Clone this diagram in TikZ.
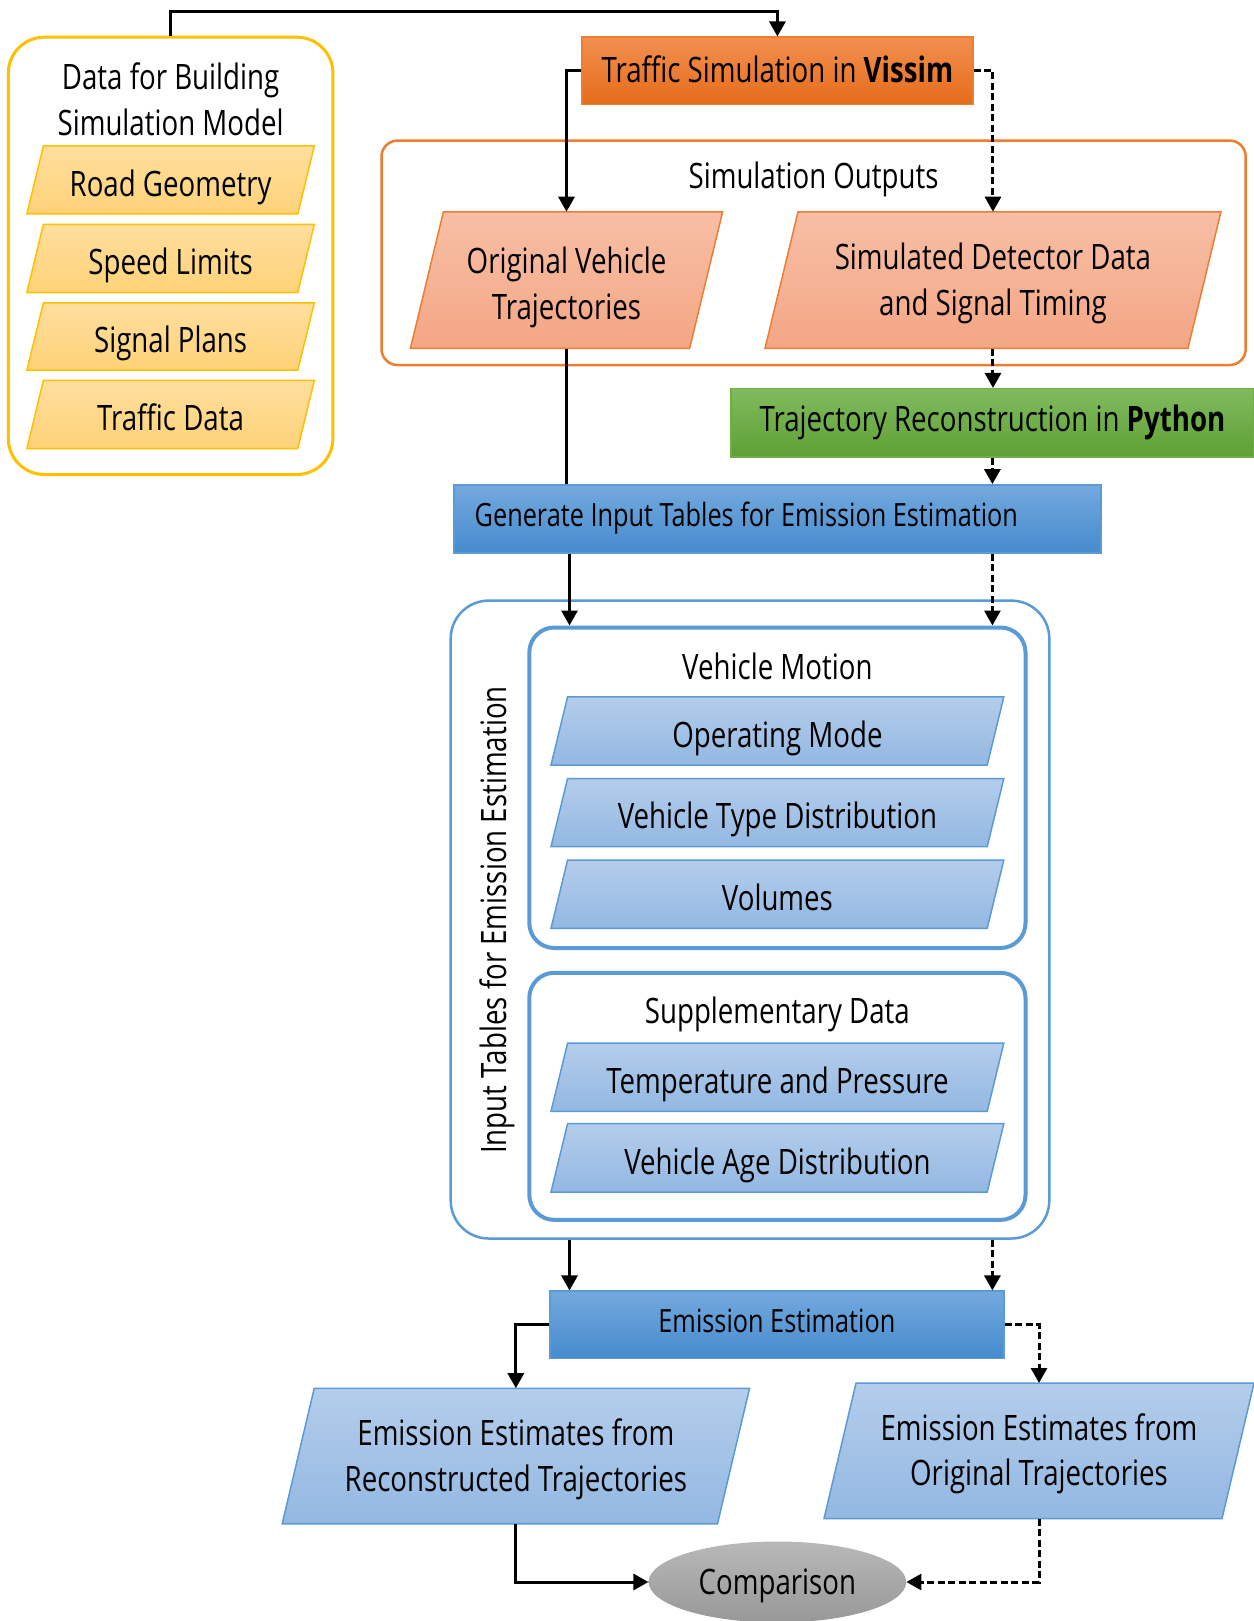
\documentclass[tikz,border=0pt]{standalone}
\usepackage{fontspec}
\setmainfont{Open Sans}[FakeStretch=0.79]
\usetikzlibrary{shapes.geometric,arrows.meta}
\definecolor{yelB}{RGB}{255,192,0}
\definecolor{yelT}{RGB}{255,222,158}
\definecolor{yelD}{RGB}{254,210,120}
\definecolor{orgB}{RGB}{237,125,49}
\definecolor{orgT}{RGB}{242,143,80}
\definecolor{orgD}{RGB}{229,108,25}
\definecolor{opT}{RGB}{247,191,166}
\definecolor{opD}{RGB}{244,166,132}
\definecolor{grnB}{RGB}{112,173,71}
\definecolor{grnT}{RGB}{128,187,94}
\definecolor{grnD}{RGB}{94,160,52}
\definecolor{bluB}{RGB}{91,155,213}
\definecolor{bbT}{RGB}{115,169,222}
\definecolor{bbD}{RGB}{70,139,205}
\definecolor{bpT}{RGB}{180,205,235}
\definecolor{bpD}{RGB}{147,184,226}
\definecolor{gryT}{RGB}{184,184,184}
\definecolor{gryD}{RGB}{152,152,152}
\newcommand\st{\rule[-13.65pt]{0pt}{51.65pt}}
\newcommand\stp{\rule[-13.65pt]{0pt}{60pt}}
\newcommand\mkpara[8]{%
  \path[#7] (#2,#5) -- ({#2+#6},#4) -- (#3,#4) -- ({#3-#6},#5) -- cycle;
  \node[txt, minimum width={#3-#2-#6}, minimum height={#5-#4}] (#1) at ({(#2+#3)/2},{(#4+#5)/2}) {#8};
}
\newcommand\mkbox[7]{%
  \node[#6, inner sep=0pt, minimum width={#4-#2}, minimum height={#5-#3}] (#1) at ({(#2+#4)/2},{(#3+#5)/2}) {#7};
}
\begin{document}
\begin{tikzpicture}[x=1pt,y=-1pt,
  conn/.style={line width=3pt, draw=black},
  arr/.style={-{Triangle[length=15pt,width=16pt]}},
  dsh/.style={dash pattern=on 7pt off 3.5pt},
  txt/.style={font=\fontsize{35}{45.5}\selectfont, align=center, inner sep=0pt},
  stxt/.style={font=\fontsize{32}{40}\selectfont, align=center, inner sep=0pt},
  ypara/.style={draw=yelB, line width=1.5pt, top color=yelT, bottom color=yelD},
  opara/.style={draw=orgB, line width=1.5pt, top color=opT, bottom color=opD},
  bpara/.style={draw=bluB, line width=1.5pt, top color=bpT, bottom color=bpD},
  bbox/.style={draw=bluB, line width=1.5pt, top color=bbT, bottom color=bbD, stxt},
]
\useasboundingbox (0,0) rectangle (1253,1621);
\fill[white] (0,0) rectangle (1253,1621);

% ---- left yellow container
\mkbox{ybox}{8.3}{37.2}{332.9}{474.5}{draw=yelB, line width=3pt, rounded corners=36pt}{}
\node[txt] (ytitle) at (170.6,100.5) {\st Data for Building\\\strut Simulation Model};
\mkpara{rg}{26.9}{314.3}{146}{214}{16.5}{ypara}{\stp Road Geometry}
\mkpara{sl}{26.9}{314.3}{224.3}{292.6}{16.5}{ypara}{\stp Speed Limits}
\mkpara{sp}{26.9}{314.3}{302.9}{370.1}{16.5}{ypara}{\stp Signal Plans}
\mkpara{td}{26.9}{314.3}{380.4}{448.7}{16.5}{ypara}{\stp Traffic Data}

% ---- Vissim
\mkbox{vis}{582}{37.2}{972.8}{104.4}{draw=orgB, line width=1.5pt, top color=orgT, bottom color=orgD, txt}{\st Traffic Simulation in \textbf{Vissim}}

% ---- Simulation outputs
\mkbox{sout}{381.5}{140.6}{1245.7}{365}{draw=orgB, line width=2.5pt, rounded corners=16pt}{}
\node[txt] (souttxt) at (813.6,176) {\st Simulation Outputs};
\mkpara{orig}{410.4}{722.6}{211.9}{348.4}{33}{opara}{\stp Original Vehicle\\\strut Trajectories}
\mkpara{sim}{765}{1220.9}{211.9}{348.4}{33}{opara}{\st Simulated Detector Data\\\strut and Signal Timing}

% ---- Python
\mkbox{grn}{730.9}{388.7}{1254}{456.9}{draw=grnB, line width=1.5pt, top color=grnT, bottom color=grnD, txt}{\strut Trajectory Reconstruction in \textbf{Python}}

% ---- Generate
\mkbox{gen}{453.8}{484.9}{1101}{553.1}{bbox}{}
\node[stxt, anchor=west] (gentxt) at (474.5,514) {\st Generate Input Tables for Emission Estimation};

% ---- Input tables container
\mkbox{ibox}{450.7}{600.6}{1049.3}{1238.5}{draw=bluB, line width=2.5pt, rounded corners=38pt}{}
\node[txt, rotate=90] (ilabel) at (497.5,920) {\strut Input Tables for Emission Estimation};
\mkbox{vm}{529.3}{627.5}{1025.5}{948}{draw=bluB, line width=4pt, rounded corners=25pt}{}
\node[txt] (vmtxt) at (777.4,667) {\st Vehicle Motion};
\mkpara{om}{551}{1003.8}{696.8}{765}{16.6}{bpara}{\stp Operating Mode}
\mkpara{vt}{551}{1003.8}{778.5}{846.7}{16.6}{bpara}{\stp Vehicle Type Distribution}
\mkpara{vo}{551}{1003.8}{860.1}{928.4}{16.6}{bpara}{\stp Volumes}
\mkbox{sd}{529.3}{972.8}{1025.5}{1219.9}{draw=bluB, line width=4pt, rounded corners=25pt}{}
\node[txt] (sdtxt) at (777.4,1011) {\st Supplementary Data};
\mkpara{tp}{551}{1003.8}{1043.1}{1111.3}{16.6}{bpara}{\stp Temperature and Pressure}
\mkpara{va}{551}{1003.8}{1123.7}{1192}{16.6}{bpara}{\stp Vehicle Age Distribution}

% ---- Emission estimation
\mkbox{em}{550}{1291.2}{1003.8}{1358.4}{bbox}{\strut Emission Estimation}
\mkpara{lp}{282.2}{749.5}{1388.4}{1523.8}{32}{bpara}{\st Emission Estimates from\\\strut Reconstructed Trajectories}
\mkpara{rp}{824}{1254}{1383.2}{1518.6}{32}{bpara}{\st Emission Estimates from\\\strut Original Trajectories}
\node[ellipse, draw=none, top color=gryT, bottom color=gryD, minimum width=257.6pt, minimum height=81pt, inner sep=0pt, txt] (cmp) at (777.4,1582) {\st Comparison};

% ---- connectors
\coordinate (topy) at (0,11.4);
\coordinate (sx) at (569.5,0);
\coordinate (dx) at (992.4,0);
\draw[conn,arr] (ybox.north) |- (vis.north |- topy) -- (vis.north);
\draw[conn,arr] (vis.west) -| (orig.north);
\draw[conn,arr,dsh] (vis.east) -| (sim.north);
\draw[conn,arr,dsh] (sim.south) -- (sim.south |- grn.north);
\draw[conn,arr,dsh] (dx |- grn.south) -- (dx |- gen.north);
\draw[conn] (orig.south) -- (orig.south |- gen.north);
\draw[conn,arr] (sx |- gen.south) -- (sx |- vm.north);
\draw[conn,arr,dsh] (dx |- gen.south) -- (dx |- vm.north);
\draw[conn,arr] (sx |- ibox.south) -- (sx |- em.north);
\draw[conn,arr,dsh] (dx |- ibox.south) -- (dx |- em.north);
\draw[conn,arr] (em.west) -| (lp.north);
\draw[conn,arr,dsh] (em.east) -| (rp.north);
\draw[conn,arr] (lp.south) |- (cmp.west);
\draw[conn,arr,dsh] (rp.south) |- (cmp.east);
\end{tikzpicture}
\end{document}
